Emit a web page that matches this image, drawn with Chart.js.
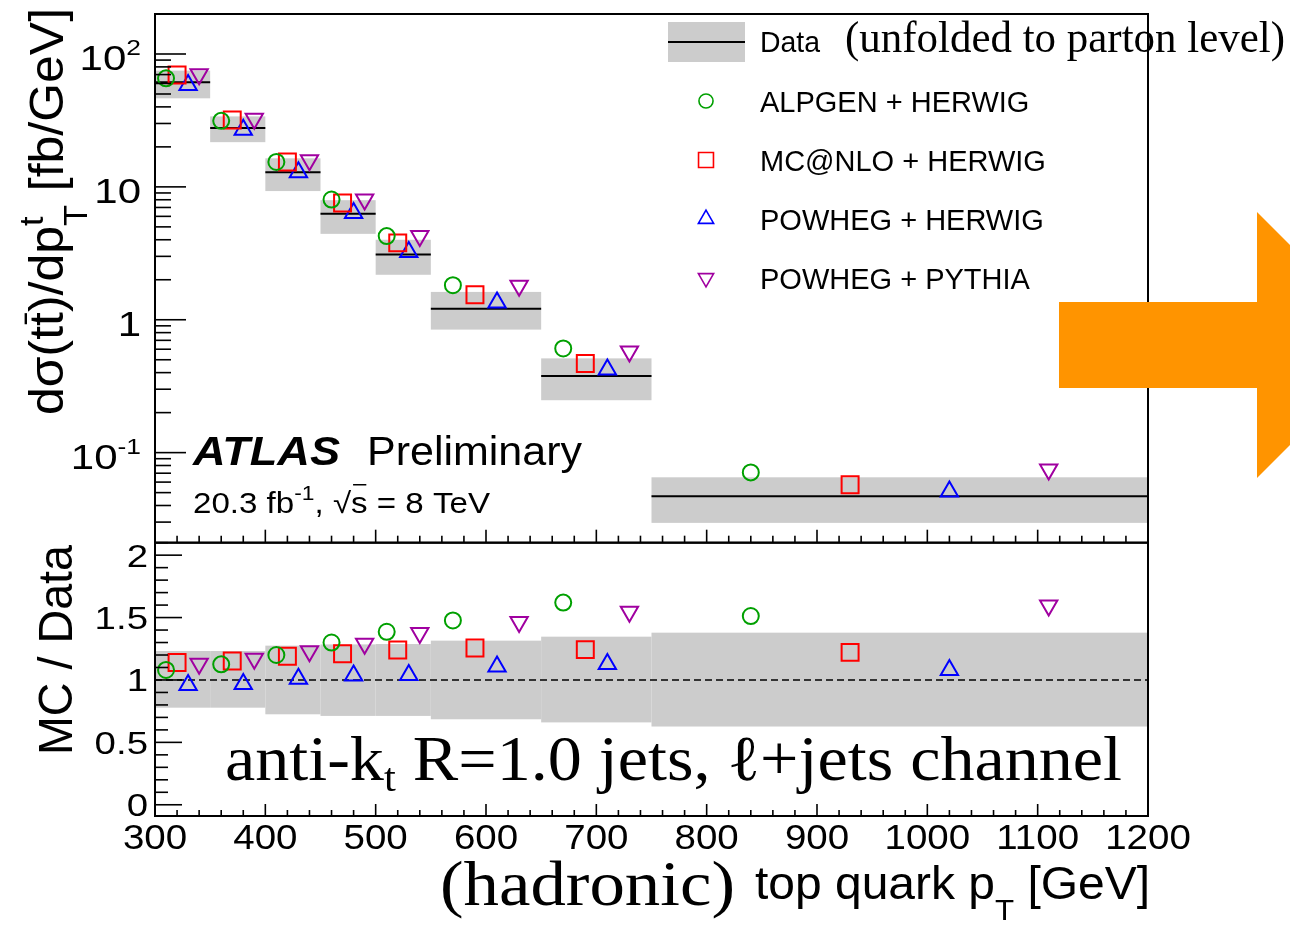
<!DOCTYPE html>
<html>
<head>
<meta charset="utf-8">
<script src="https://cdn.jsdelivr.net/npm/chart.js@4.4.1/dist/chart.umd.min.js"></script>
<style>
  html, body { margin: 0; padding: 0; background: #fff; }
  #wrap { position: relative; width: 1290px; height: 926px; overflow: hidden; }
</style>
</head>
<body>
<div id="wrap"><canvas id="chartXsec" width="1290" height="926"></canvas></div>
<script>
// bins of hadronic top quark pT [GeV]
const binEdges = [300, 350, 400, 450, 500, 550, 650, 750, 1200];

// unfolded data [fb/GeV] and its grey uncertainty band
const dataXsec = [61.3, 27.7, 12.9, 6.27, 3.10, 1.21, 0.377, 0.0469];
const dataHigh = [75.0, 33.9, 16.4, 7.94, 4.00, 1.62, 0.512, 0.0652];
const dataLow  = [46.4, 21.7, 9.3, 4.43, 2.18, 0.843, 0.248, 0.0296];

// band in the MC / Data panel
const ratioHigh = [1.232, 1.232, 1.275, 1.285, 1.288, 1.315, 1.347, 1.379];
const ratioLow  = [0.778, 0.778, 0.725, 0.712, 0.712, 0.685, 0.660, 0.627];

// predictions [fb/GeV]
const alpgenXsec   = [65.6, 31.4, 15.4, 8.03, 4.26, 1.82, 0.608, 0.0710];
const mcnloXsec    = [69.5, 31.9, 15.4, 7.57, 3.79, 1.54, 0.469, 0.0574];
const powhegHwXsec = [58.5, 26.9, 12.9, 6.37, 3.23, 1.35, 0.423, 0.0509];
const powhegPyXsec = [70.3, 32.5, 15.85, 8.03, 4.26, 1.80, 0.577, 0.0748];

// MC / Data
const alpgenRatio   = [1.08, 1.125, 1.20, 1.30, 1.386, 1.477, 1.62, 1.512];
const mcnloRatio    = [1.14, 1.152, 1.19, 1.21, 1.24, 1.256, 1.243, 1.221];
const powhegHwRatio = [0.96, 0.968, 1.01, 1.035, 1.04, 1.107, 1.128, 1.08];
const powhegPyRatio = [1.13, 1.17, 1.23, 1.29, 1.377, 1.464, 1.547, 1.597];

// each generator is shifted inside the bin
const markerFrac = [0.2, 0.4, 0.6, 0.8];

const xTicks = [300, 400, 500, 600, 700, 800, 900, 1000, 1100, 1200];
const xsecTicks = [0.1, 1, 10, 100];
const xsecTickLabels = [["10", "-1"], ["1", ""], ["10", ""], ["10", "2"]];
const ratioTicks = [0, 0.5, 1, 1.5, 2];
const ratioTickLabels = ["0", "0.5", "1", "1.5", "2"];

const SANS = '"Liberation Sans", Arial, Helvetica, sans-serif';
const SERIF = '"Liberation Serif", "Times New Roman", serif';

const generators = [
    { label: "ALPGEN + HERWIG", color: "#00a000", style: "circle", radius: 8, rotation: 0, xsec: alpgenXsec, ratio: alpgenRatio },
    { label: "MC@NLO + HERWIG", color: "#ff0000", style: "rect", radius: 12, rotation: 0, xsec: mcnloXsec, ratio: mcnloRatio },
    { label: "POWHEG + HERWIG", color: "#0000ff", style: "triangle", radius: 10, rotation: 0, xsec: powhegHwXsec, ratio: powhegHwRatio },
    { label: "POWHEG + PYTHIA", color: "#a000a0", style: "triangle", radius: 10, rotation: 180, xsec: powhegPyXsec, ratio: powhegPyRatio }
];

function binPos(i, frac) {
    return binEdges[i] + frac * (binEdges[i + 1] - binEdges[i]);
}

function toPoints(values, k) {
    return values.map((v, i) => ({ x: binPos(i, markerFrac[k]), y: v }));
}

const datasets = [];
generators.forEach((g, k) => {
    const look = {
        showLine: false,
        pointStyle: g.style,
        pointRadius: g.radius,
        pointRotation: g.rotation,
        pointBorderWidth: 2,
        borderColor: g.color,
        pointBorderColor: g.color,
        backgroundColor: "rgba(0,0,0,0)",
        pointBackgroundColor: "rgba(0,0,0,0)"
    };
    datasets.push({ ...look, label: g.label, data: toPoints(g.xsec, k), yAxisID: "y" });
    datasets.push({ ...look, label: g.label + " ratio", data: toPoints(g.ratio, k), yAxisID: "ratio" });
});

// --- small text helpers (sub/superscripts, horizontal stretch) ---
function fontOf(p) {
    return [p.style, p.weight, p.size + "px", p.family || SANS].filter(Boolean).join(" ");
}

function layoutParts(ctx, parts) {
    let cx = 0, lastStart = 0;
    parts.forEach(p => {
        ctx.font = fontOf(p);
        const w = ctx.measureText(p.t).width;
        const start = p.stack ? lastStart : cx;
        p._x = start;
        p._w = w;
        cx = p.stack ? Math.max(cx, start + w) : start + w;
        lastStart = start;
    });
    return cx;
}

function drawRich(ctx, parts, x, y, align, sx) {
    const w = layoutParts(ctx, parts) * sx;
    const x0 = align === "right" ? x - w : align === "center" ? x - w / 2 : x;
    ctx.save();
    ctx.translate(x0, y);
    ctx.scale(sx, 1);
    ctx.textAlign = "left";
    ctx.textBaseline = "alphabetic";
    parts.forEach(p => {
        ctx.font = fontOf(p);
        const dy = p.dy || 0;
        ctx.fillText(p.t, p._x, dy);
        if (p.bar) {
            ctx.fillRect(p._x + p._w * 0.12, dy - p.size * p.bar, p._w * 0.8, Math.max(1.5, p.size * 0.05));
        }
    });
    ctx.restore();
}

// stretch text so it spans x0..x1
function drawSpan(ctx, parts, x0, x1, y) {
    const w = layoutParts(ctx, parts);
    drawRich(ctx, parts, x0, y, "left", (x1 - x0) / w);
}

function line(ctx, x0, y0, x1, y1) {
    ctx.beginPath();
    ctx.moveTo(x0, y0);
    ctx.lineTo(x1, y1);
    ctx.stroke();
}

const panelPlugin = {
    id: "atlasPanels",
    beforeDatasetsDraw(chart) {
        const { ctx } = chart;
        const { x, y, ratio } = chart.scales;
        ctx.save();
        ctx.fillStyle = "#cccccc";
        for (let i = 0; i < dataXsec.length; i++) {
            const x0 = x.getPixelForValue(binEdges[i]);
            const x1 = x.getPixelForValue(binEdges[i + 1]);
            const t = y.getPixelForValue(dataHigh[i]);
            const b = y.getPixelForValue(dataLow[i]);
            ctx.fillRect(x0, t, x1 - x0, b - t);
            const rt = ratio.getPixelForValue(ratioHigh[i]);
            const rb = ratio.getPixelForValue(ratioLow[i]);
            ctx.fillRect(x0, rt, x1 - x0, rb - rt);
        }
        ctx.strokeStyle = "#000";
        ctx.lineWidth = 2;
        for (let i = 0; i < dataXsec.length; i++) {
            const py = y.getPixelForValue(dataXsec[i]);
            line(ctx, x.getPixelForValue(binEdges[i]), py, x.getPixelForValue(binEdges[i + 1]), py);
        }
        ctx.lineWidth = 1.6;
        ctx.setLineDash([7, 4]);
        const one = ratio.getPixelForValue(1);
        line(ctx, x.left, one, x.right, one);
        ctx.restore();
    },
    afterDatasetsDraw(chart) {
        const { ctx } = chart;
        const { x, y, ratio } = chart.scales;
        ctx.save();
        ctx.strokeStyle = "#000";
        ctx.fillStyle = "#000";
        ctx.lineWidth = 2;

        // frames
        ctx.strokeRect(x.left, y.top, x.right - x.left, y.bottom - y.top);
        ctx.strokeRect(x.left, ratio.top, x.right - x.left, ratio.bottom - ratio.top);

        // log y ticks
        ctx.lineWidth = 1.6;
        for (let e = -2; e <= 2; e++) {
            for (let m = 1; m <= 9; m++) {
                const v = m * Math.pow(10, e);
                if (v < y.min || v > y.max) continue;
                const py = y.getPixelForValue(v);
                line(ctx, x.left, py, x.left + (m === 1 ? 31 : 16), py);
            }
        }
        // ratio ticks
        for (let k = 0; k <= 21; k++) {
            const py = ratio.getPixelForValue(k / 10);
            line(ctx, x.left, py, x.left + (k % 5 === 0 ? 27 : 13), py);
        }
        // x ticks on both panels
        for (let v = 300; v <= 1200; v += 20) {
            const px = x.getPixelForValue(v);
            const major = v % 100 === 0;
            line(ctx, px, y.bottom, px, y.bottom - (major ? 13 : 7));
            line(ctx, px, ratio.bottom, px, ratio.bottom - (major ? 12 : 6));
        }

        // tick labels
        xTicks.forEach(v => {
            drawRich(ctx, [{ t: String(v), size: 35 }], x.getPixelForValue(v), 849, "center", 1.1);
        });
        ratioTicks.forEach((v, i) => {
            drawRich(ctx, [{ t: ratioTickLabels[i], size: 32 }], 148, ratio.getPixelForValue(v) + 11.5, "right", 1.2);
        });
        xsecTicks.forEach((v, i) => {
            const [base, pw] = xsecTickLabels[i];
            const py = y.getPixelForValue(v) + 16;
            const parts = [{ t: base, size: 35 }];
            if (pw) parts.push({ t: pw, size: 22, dy: -15 });
            drawRich(ctx, parts, 141, py, "right", 1.2);
        });

        // axis titles
        ctx.save();
        ctx.translate(63, 0);
        ctx.rotate(-Math.PI / 2);
        drawSpan(ctx, [
            { t: "dσ(t", size: 48 },
            { t: "t", size: 48, bar: 0.8 },
            { t: ")/dp", size: 48 },
            { t: "t", size: 33, dy: -20 },
            { t: "T", size: 33, dy: 24, stack: true },
            { t: " [fb/GeV]", size: 48 }
        ], -415, -8, 0);
        ctx.restore();

        ctx.save();
        ctx.translate(72, 0);
        ctx.rotate(-Math.PI / 2);
        drawSpan(ctx, [{ t: "MC / Data", size: 48 }], -755, -545, 0);
        ctx.restore();

        drawSpan(ctx, [{ t: "(hadronic)", size: 64, family: SERIF }], 440, 735, 905);
        drawSpan(ctx, [
            { t: "top quark p", size: 46 },
            { t: "T", size: 30, dy: 21 },
            { t: " [GeV]", size: 46 }
        ], 755, 1150, 899);

        // ATLAS label
        drawSpan(ctx, [{ t: "ATLAS", size: 40, weight: "bold", style: "italic" }], 193, 340, 465);
        drawSpan(ctx, [{ t: "Preliminary", size: 40 }], 367, 582, 465);
        drawSpan(ctx, [
            { t: "20.3 fb", size: 29 },
            { t: "-1", size: 20, dy: -13 },
            { t: ", √", size: 29 },
            { t: "s", size: 29, bar: 1.0 },
            { t: " = 8 TeV", size: 29 }
        ], 193, 490, 513);

        drawSpan(ctx, [
            { t: "anti-k", size: 64, family: SERIF },
            { t: "t", size: 40, family: SERIF, dy: 11 },
            { t: " R=1.0 jets, ℓ+jets channel", size: 64, family: SERIF }
        ], 225, 1122, 780);

        // legend
        ctx.fillStyle = "#cccccc";
        ctx.fillRect(668, 22, 77, 40);
        ctx.strokeStyle = "#000";
        ctx.lineWidth = 2;
        line(ctx, 668, 42, 745, 42);
        ctx.fillStyle = "#000";
        drawSpan(ctx, [{ t: "Data", size: 29 }], 760, 820, 52);
        drawSpan(ctx, [{ t: "(unfolded to parton level)", size: 44, family: SERIF }], 845, 1285, 52);

        const legendY = [101, 160, 219, 278];
        generators.forEach((g, k) => {
            ctx.strokeStyle = g.color;
            ctx.fillStyle = "rgba(0,0,0,0)";
            ctx.lineWidth = 1.6;
            Chart.helpers.drawPoint(ctx, {
                pointStyle: g.style,
                radius: g.radius * 0.88,
                rotation: g.rotation,
                borderWidth: 1.6
            }, 706, legendY[k]);
            ctx.fillStyle = "#000";
            drawRich(ctx, [{ t: g.label, size: 29 }], 760, legendY[k] + 10.5, "left", 1);
        });

        // orange arrow
        ctx.fillStyle = "#ff9400";
        ctx.beginPath();
        ctx.moveTo(1059, 302);
        ctx.lineTo(1257, 302);
        ctx.lineTo(1257, 212);
        ctx.lineTo(1390, 345);
        ctx.lineTo(1257, 478);
        ctx.lineTo(1257, 388);
        ctx.lineTo(1059, 388);
        ctx.closePath();
        ctx.fill();

        ctx.restore();
    }
};

const chart = new Chart(document.getElementById("chartXsec").getContext("2d"), {
    type: "scatter",
    data: { datasets: datasets },
    options: {
        responsive: false,
        animation: false,
        events: [],
        layout: { padding: { left: 0, right: 142, top: 12, bottom: 0 } },
        plugins: {
            legend: { display: false },
            tooltip: { enabled: false }
        },
        scales: {
            x: {
                type: "linear",
                position: "bottom",
                min: 300,
                max: 1200,
                ticks: { display: false },
                grid: { display: false, drawTicks: false },
                border: { display: false },
                afterFit: s => { s.height = 110; }
            },
            y: {
                type: "logarithmic",
                position: "left",
                stack: "panels",
                stackWeight: 530,
                weight: 2,
                min: 0.021,
                max: 200,
                ticks: { display: false },
                grid: { display: false, drawTicks: false },
                border: { display: false },
                afterFit: s => { s.width = 155; }
            },
            ratio: {
                type: "linear",
                position: "left",
                stack: "panels",
                stackWeight: 274,
                weight: 1,
                min: -0.09,
                max: 2.1,
                ticks: { display: false },
                grid: { display: false, drawTicks: false },
                border: { display: false },
                afterFit: s => { s.width = 155; }
            }
        }
    },
    plugins: [panelPlugin]
});
</script>
</body>
</html>
